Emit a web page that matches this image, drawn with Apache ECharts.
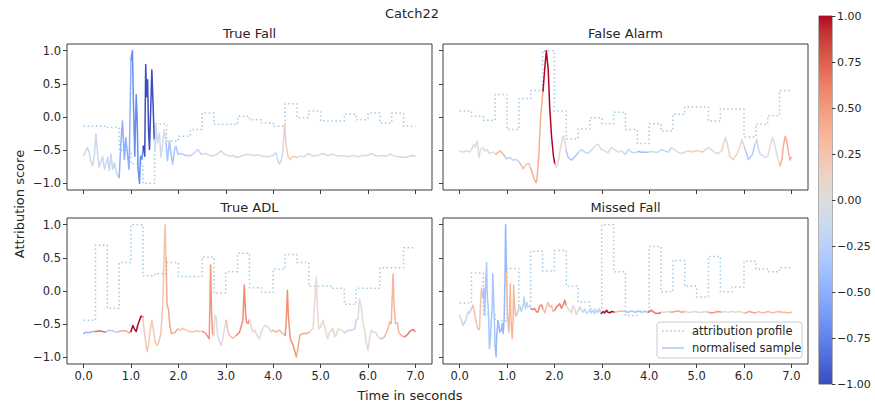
<!DOCTYPE html>
<html>
<head>
<meta charset="utf-8">
<script src="https://cdn.jsdelivr.net/npm/echarts@6/dist/echarts.min.js"></script>
<style>
  html, body { margin: 0; padding: 0; background: #fff; }
  #chart { width: 875px; height: 407px; }
</style>
</head>
<body>
<div id="chart"></div>
<script>
// Panel titles (row-major order)
const panelTitles = ['True Fall', 'False Alarm', 'True ADL', 'Missed Fall'];
const xTicks = [0, 1, 2, 3, 4, 5, 6, 7];
const yTicks = [-1, -0.5, 0, 0.5, 1];
const segmentSeconds = 0.25;

// Attribution profile: one score per 0.25 s window (28 windows over 7 s)
const fallProfile = [-0.14,-0.14,-0.16,-0.50,-0.70,-1.00,-0.10,-0.36,-0.29,-0.19,0.06,-0.11,-0.11,0.01,-0.04,-0.09,-0.14,0.20,-0.01,0.09,-0.06,-0.06,0.04,-0.04,0.06,-0.09,0.06,-0.14];
const falseProfile = [0.09,0.01,-0.05,0.34,-0.19,0.28,0.40,1.00,0.09,-0.33,-0.18,-0.01,-0.10,0.07,-0.19,-0.40,-0.10,-0.21,0.04,0.15,0.15,-0.06,0.12,0.12,-0.30,-0.11,0.02,0.40];
const adlProfile = [-0.44,0.69,-0.26,0.43,1.00,0.23,0.26,0.43,0.22,0.22,0.51,-0.03,0.29,0.57,0.05,-0.02,0.33,0.55,0.43,0.07,0.07,0.04,-0.20,0.04,0.04,0.35,0.35,0.65];
const missedProfile = [-0.18,0.27,-0.35,-0.45,0.34,-0.22,0.60,0.30,0.61,0.07,-0.17,-0.27,1.00,0.29,-0.37,-0.30,0.67,-0.01,0.46,0.07,-0.09,0.52,-0.01,0.06,0.45,0.33,0.29,0.35];

// Normalised samples: [time in s, value]
const fallSample = [[0.00,-0.58],[0.05,-0.51],[0.08,-0.46],[0.12,-0.54],[0.15,-0.66],[0.19,-0.74],[0.23,-0.56],[0.26,-0.26],[0.30,-0.59],[0.33,-0.76],[0.37,-0.66],[0.40,-0.59],[0.44,-0.79],[0.47,-0.71],[0.51,-0.61],[0.54,-0.81],[0.58,-0.56],[0.61,-0.79],[0.65,-0.69],[0.68,-0.81],[0.72,-0.89],[0.75,-0.91],[0.79,-0.36],[0.82,-0.06],[0.86,-0.64],[0.89,-0.31],[0.93,-0.59],[0.96,-0.79],[1.00,0.86],[1.03,1.00],[1.05,0.26],[1.08,-0.59],[1.11,0.34],[1.13,0.01],[1.15,-0.79],[1.18,-1.00],[1.20,-0.59],[1.23,-0.64],[1.26,-0.44],[1.29,-0.59],[1.31,0.79],[1.33,0.31],[1.35,0.56],[1.37,-0.19],[1.39,-0.49],[1.42,0.21],[1.44,0.71],[1.46,0.31],[1.49,-0.34],[1.51,-0.49],[1.53,-0.11],[1.56,-0.39],[1.60,-0.24],[1.63,-0.61],[1.67,-0.39],[1.70,-0.19],[1.74,-0.39],[1.77,-0.66],[1.81,-0.36],[1.85,-0.59],[1.88,-0.71],[1.92,-0.49],[1.95,-0.44],[1.99,-0.56],[2.06,-0.55],[2.16,-0.58],[2.27,-0.58],[2.34,-0.54],[2.41,-0.49],[2.48,-0.56],[2.58,-0.55],[2.69,-0.59],[2.80,-0.57],[2.90,-0.51],[2.97,-0.56],[3.08,-0.59],[3.15,-0.58],[3.25,-0.61],[3.36,-0.58],[3.46,-0.56],[3.57,-0.58],[3.68,-0.57],[3.78,-0.59],[3.89,-0.60],[3.99,-0.58],[4.06,-0.54],[4.10,-0.66],[4.13,-0.71],[4.17,-0.66],[4.20,-0.54],[4.24,-0.11],[4.27,-0.41],[4.31,-0.59],[4.36,-0.64],[4.42,-0.59],[4.49,-0.61],[4.56,-0.59],[4.66,-0.60],[4.73,-0.55],[4.84,-0.59],[4.94,-0.58],[5.05,-0.55],[5.15,-0.58],[5.26,-0.56],[5.37,-0.59],[5.47,-0.58],[5.58,-0.60],[5.68,-0.58],[5.79,-0.60],[5.89,-0.58],[6.00,-0.58],[6.07,-0.55],[6.18,-0.59],[6.28,-0.58],[6.39,-0.59],[6.46,-0.56],[6.56,-0.59],[6.67,-0.60],[6.77,-0.61],[6.88,-0.59],[6.94,-0.58],[6.99,-0.59]];

const falseSample = [[0.00,-0.51],[0.07,-0.53],[0.14,-0.51],[0.21,-0.53],[0.26,-0.48],[0.30,-0.41],[0.33,-0.46],[0.37,-0.36],[0.41,-0.61],[0.44,-0.49],[0.49,-0.46],[0.53,-0.51],[0.58,-0.49],[0.63,-0.55],[0.70,-0.53],[0.77,-0.56],[0.85,-0.51],[0.92,-0.56],[0.99,-0.63],[1.06,-0.61],[1.13,-0.65],[1.20,-0.64],[1.27,-0.69],[1.34,-0.78],[1.41,-0.71],[1.46,-0.70],[1.51,-0.79],[1.56,-0.91],[1.61,-0.99],[1.63,-0.96],[1.67,-0.59],[1.71,0.01],[1.76,0.39],[1.80,0.76],[1.83,1.00],[1.87,0.71],[1.90,0.16],[1.94,-0.29],[1.98,-0.59],[2.01,-0.71],[2.04,-0.76],[2.08,-0.69],[2.13,-0.46],[2.18,-0.29],[2.22,-0.34],[2.25,-0.51],[2.29,-0.61],[2.36,-0.65],[2.43,-0.60],[2.50,-0.54],[2.57,-0.49],[2.64,-0.53],[2.71,-0.55],[2.78,-0.50],[2.85,-0.44],[2.92,-0.41],[2.99,-0.49],[3.06,-0.51],[3.13,-0.54],[3.20,-0.46],[3.27,-0.49],[3.35,-0.53],[3.42,-0.51],[3.49,-0.56],[3.52,-0.54],[3.56,-0.49],[3.63,-0.53],[3.70,-0.54],[3.77,-0.52],[3.84,-0.53],[3.91,-0.53],[3.98,-0.53],[4.05,-0.52],[4.12,-0.53],[4.19,-0.53],[4.26,-0.49],[4.33,-0.51],[4.40,-0.53],[4.47,-0.46],[4.54,-0.50],[4.61,-0.53],[4.68,-0.55],[4.75,-0.53],[4.82,-0.51],[4.89,-0.53],[4.96,-0.51],[5.04,-0.51],[5.11,-0.53],[5.18,-0.50],[5.25,-0.46],[5.32,-0.50],[5.39,-0.54],[5.46,-0.55],[5.53,-0.51],[5.57,-0.39],[5.61,-0.31],[5.65,-0.41],[5.70,-0.59],[5.77,-0.64],[5.85,-0.56],[5.92,-0.44],[5.96,-0.34],[6.01,-0.46],[6.06,-0.56],[6.09,-0.64],[6.13,-0.61],[6.18,-0.56],[6.23,-0.41],[6.27,-0.34],[6.30,-0.46],[6.34,-0.56],[6.39,-0.58],[6.44,-0.61],[6.50,-0.59],[6.55,-0.44],[6.60,-0.31],[6.64,-0.39],[6.69,-0.56],[6.73,-0.66],[6.76,-0.73],[6.80,-0.64],[6.83,-0.44],[6.87,-0.29],[6.90,-0.36],[6.94,-0.54],[6.97,-0.65],[7.00,-0.61]];

const adlSample = [[0.00,-0.64],[0.05,-0.62],[0.12,-0.63],[0.19,-0.61],[0.26,-0.61],[0.33,-0.60],[0.40,-0.61],[0.47,-0.62],[0.54,-0.59],[0.61,-0.60],[0.68,-0.62],[0.75,-0.61],[0.82,-0.60],[0.89,-0.60],[0.96,-0.63],[1.00,-0.61],[1.04,-0.52],[1.07,-0.57],[1.11,-0.61],[1.14,-0.52],[1.18,-0.44],[1.21,-0.38],[1.25,-0.39],[1.28,-0.62],[1.32,-0.82],[1.34,-0.91],[1.37,-0.82],[1.40,-0.62],[1.44,-0.44],[1.47,-0.57],[1.51,-0.77],[1.55,-0.82],[1.58,-0.79],[1.63,-0.64],[1.67,-0.22],[1.70,0.59],[1.72,1.00],[1.74,0.49],[1.76,-0.22],[1.79,-0.27],[1.82,-0.52],[1.85,-0.64],[1.92,-0.63],[1.99,-0.57],[2.04,-0.59],[2.09,-0.56],[2.16,-0.59],[2.23,-0.61],[2.30,-0.62],[2.37,-0.60],[2.44,-0.61],[2.51,-0.61],[2.58,-0.64],[2.62,-0.69],[2.65,-0.72],[2.68,0.39],[2.70,-0.32],[2.72,-0.64],[2.75,-0.67],[2.77,-0.37],[2.80,-0.39],[2.82,-0.64],[2.87,-0.77],[2.90,-0.82],[2.94,-0.72],[2.97,-0.57],[3.01,-0.44],[3.04,-0.59],[3.08,-0.67],[3.15,-0.71],[3.22,-0.67],[3.29,-0.62],[3.36,-0.44],[3.39,0.09],[3.42,-0.37],[3.44,-0.47],[3.47,-0.49],[3.50,-0.43],[3.54,-0.54],[3.57,-0.62],[3.61,-0.59],[3.64,-0.64],[3.68,-0.69],[3.71,-0.72],[3.75,-0.62],[3.80,-0.54],[3.85,-0.52],[3.92,-0.57],[3.96,-0.62],[3.99,-0.59],[4.06,-0.62],[4.10,-0.60],[4.13,-0.59],[4.20,-0.64],[4.25,-0.67],[4.27,-0.52],[4.30,0.01],[4.32,-0.37],[4.36,-0.72],[4.42,-0.82],[4.46,-0.92],[4.49,-0.99],[4.51,-0.92],[4.56,-0.67],[4.63,-0.64],[4.70,-0.64],[4.77,-0.62],[4.80,-0.59],[4.84,-0.57],[4.87,-0.22],[4.91,0.21],[4.93,-0.22],[4.96,-0.57],[5.00,-0.54],[5.05,-0.44],[5.08,-0.52],[5.12,-0.64],[5.15,-0.72],[5.19,-0.62],[5.23,-0.59],[5.26,-0.57],[5.30,-0.69],[5.33,-0.66],[5.37,-0.57],[5.44,-0.59],[5.51,-0.63],[5.58,-0.59],[5.65,-0.59],[5.72,-0.57],[5.75,-0.44],[5.79,-0.42],[5.82,-0.12],[5.86,-0.24],[5.89,-0.47],[5.93,-0.59],[5.96,-0.77],[6.00,-0.89],[6.04,-0.69],[6.07,-0.59],[6.11,-0.62],[6.16,-0.62],[6.21,-0.69],[6.28,-0.72],[6.35,-0.69],[6.42,-0.57],[6.46,-0.46],[6.49,-0.49],[6.53,0.26],[6.55,-0.22],[6.58,-0.49],[6.62,-0.48],[6.65,-0.62],[6.70,-0.67],[6.77,-0.69],[6.81,-0.67],[6.85,-0.64],[6.88,-0.61],[6.92,-0.59],[6.95,-0.58],[6.99,-0.61]];

const missedSample = [[0.00,-0.37],[0.04,-0.44],[0.07,-0.52],[0.11,-0.47],[0.14,-0.42],[0.18,-0.31],[0.21,-0.33],[0.25,-0.27],[0.28,-0.21],[0.32,-0.34],[0.35,-0.47],[0.39,-0.58],[0.42,-0.58],[0.44,-0.22],[0.46,0.04],[0.49,-0.09],[0.51,0.04],[0.53,-0.37],[0.55,0.11],[0.57,0.43],[0.58,-0.02],[0.61,-0.32],[0.63,-0.87],[0.65,-0.72],[0.67,-0.42],[0.69,-0.22],[0.70,0.26],[0.73,-0.37],[0.75,-0.82],[0.77,-0.99],[0.78,-0.72],[0.81,-0.44],[0.83,-0.52],[0.85,-0.62],[0.88,-0.59],[0.90,-0.49],[0.92,-0.64],[0.94,-0.42],[0.96,0.29],[0.97,1.00],[0.99,0.29],[1.01,-0.37],[1.04,-0.62],[1.06,-0.17],[1.07,0.11],[1.08,-0.37],[1.11,-0.72],[1.13,-0.42],[1.14,0.09],[1.16,-0.22],[1.18,-0.37],[1.20,-0.37],[1.23,-0.31],[1.27,-0.22],[1.30,-0.31],[1.34,-0.22],[1.36,-0.09],[1.39,-0.27],[1.42,-0.17],[1.44,-0.24],[1.48,-0.22],[1.51,-0.27],[1.55,-0.28],[1.58,-0.26],[1.62,-0.31],[1.65,-0.32],[1.69,-0.22],[1.73,-0.21],[1.76,-0.27],[1.80,-0.33],[1.83,-0.24],[1.87,-0.17],[1.90,-0.24],[1.94,-0.22],[1.97,-0.31],[2.01,-0.29],[2.04,-0.24],[2.08,-0.22],[2.11,-0.19],[2.15,-0.26],[2.18,-0.22],[2.22,-0.14],[2.25,-0.22],[2.29,-0.27],[2.32,-0.29],[2.36,-0.33],[2.39,-0.22],[2.43,-0.27],[2.46,-0.36],[2.50,-0.29],[2.54,-0.24],[2.57,-0.29],[2.61,-0.32],[2.64,-0.27],[2.68,-0.34],[2.71,-0.32],[2.75,-0.28],[2.78,-0.33],[2.82,-0.29],[2.85,-0.34],[2.89,-0.29],[2.92,-0.32],[2.96,-0.28],[2.99,-0.34],[3.03,-0.31],[3.06,-0.33],[3.10,-0.29],[3.13,-0.32],[3.17,-0.33],[3.20,-0.31],[3.27,-0.32],[3.35,-0.31],[3.42,-0.30],[3.49,-0.31],[3.56,-0.32],[3.63,-0.30],[3.70,-0.32],[3.77,-0.30],[3.84,-0.32],[3.91,-0.31],[3.98,-0.32],[4.05,-0.29],[4.12,-0.33],[4.19,-0.34],[4.26,-0.32],[4.33,-0.32],[4.40,-0.31],[4.47,-0.32],[4.54,-0.31],[4.61,-0.30],[4.68,-0.32],[4.75,-0.31],[4.82,-0.32],[4.89,-0.32],[4.96,-0.31],[5.04,-0.32],[5.11,-0.32],[5.18,-0.31],[5.25,-0.32],[5.32,-0.33],[5.39,-0.32],[5.46,-0.31],[5.53,-0.32],[5.60,-0.31],[5.67,-0.32],[5.74,-0.31],[5.82,-0.32],[5.89,-0.31],[5.96,-0.32],[6.03,-0.33],[6.10,-0.31],[6.17,-0.32],[6.24,-0.33],[6.31,-0.31],[6.38,-0.33],[6.45,-0.32],[6.52,-0.31],[6.59,-0.33],[6.66,-0.32],[6.73,-0.31],[6.80,-0.32],[6.87,-0.32],[6.94,-0.33],[7.00,-0.32]];

const panels = [
  { profile: fallProfile, sample: fallSample },
  { profile: falseProfile, sample: falseSample },
  { profile: adlProfile, sample: adlSample },
  { profile: missedProfile, sample: missedSample }
];

// Diverging blue-white-red colour scale (coolwarm), 33 evenly spaced stops
const coolwarmStops = [[59,76,192],[68,90,204],[77,104,215],[87,117,225],[98,130,234],[108,142,241],[119,154,247],[130,165,251],[141,176,254],[152,185,255],[163,194,255],[174,201,253],[184,208,249],[194,213,244],[204,217,238],[213,219,230],[221,221,221],[229,216,209],[236,211,197],[241,204,185],[245,196,173],[247,187,160],[247,177,148],[247,166,135],[244,154,123],[241,141,111],[236,127,99],[229,112,88],[222,96,77],[213,80,66],[203,62,56],[192,40,47],[180,4,38]];

function coolwarm(v) {
  const p = Math.max(0, Math.min(1, (v + 1) / 2)) * (coolwarmStops.length - 1);
  const i = Math.min(coolwarmStops.length - 2, Math.floor(p));
  const f = p - i;
  const a = coolwarmStops[i], b = coolwarmStops[i + 1];
  const c = a.map((x, k) => Math.round(x + (b[k] - x) * f));
  return 'rgb(' + c.join(',') + ')';
}

const minus = s => s.replace('-', '\u2212');
const fmt1 = v => minus(v.toFixed(1));
const fmt2 = v => minus(v.toFixed(2));

const FONT = 'DejaVu Sans';
const TXT = '#262626';

const gridBoxes = [
  { left: 67, top: 44, width: 365, height: 146 },
  { left: 443, top: 44, width: 365, height: 146 },
  { left: 67, top: 218, width: 365, height: 146 },
  { left: 443, top: 218, width: 365, height: 146 }
];

const grids = gridBoxes.map(g => Object.assign({ show: true, borderColor: '#3d3d3d', borderWidth: 1, backgroundColor: '#fff' }, g));
grids.push({ left: 819, top: 16, width: 13, height: 368, show: true, borderColor: '#3d3d3d', borderWidth: 0.8 });

const xAxes = [], yAxes = [], series = [];

panels.forEach((p, k) => {
  const bottomRow = k >= 2, leftCol = k % 2 === 0;
  xAxes.push({
    type: 'value', gridIndex: k, min: -0.35, max: 7.35, position: 'bottom',
    axisLine: { show: false, onZero: false }, splitLine: { show: false },
    axisTick: { show: true, length: 4, customValues: xTicks, lineStyle: { color: '#3d3d3d', width: 1 } },
    axisLabel: { show: bottomRow, customValues: xTicks, formatter: fmt1, color: TXT, fontFamily: FONT, fontSize: 11.5, margin: 6 }
  });
  yAxes.push({
    type: 'value', gridIndex: k, min: -1.1, max: 1.1, position: 'left',
    axisLine: { show: false, onZero: false }, splitLine: { show: false },
    axisTick: { show: true, length: 4, customValues: yTicks, lineStyle: { color: '#3d3d3d', width: 1 } },
    axisLabel: { show: leftCol, customValues: yTicks, formatter: fmt1, color: TXT, fontFamily: FONT, fontSize: 11.5, margin: 6 }
  });

  // attribution profile as a step line (value holds across each window)
  const stepData = p.profile.map((v, i) => [i * segmentSeconds, v]);
  stepData.push([p.profile.length * segmentSeconds, p.profile[p.profile.length - 1]]);
  series.push({
    type: 'line', name: 'attribution profile', xAxisIndex: k, yAxisIndex: k,
    data: stepData, step: 'end', symbol: 'none', silent: true, z: 2,
    lineStyle: { color: '#a5c9e1', width: 1.5, type: [1.5, 2.6] }
  });

  // normalised sample, coloured window by window with the attribution score
  let run = null;
  const runs = [];
  for (let i = 0; i < p.sample.length - 1; i++) {
    const mid = (p.sample[i][0] + p.sample[i + 1][0]) / 2;
    const seg = Math.min(p.profile.length - 1, Math.floor(mid / segmentSeconds));
    if (!run || run.seg !== seg) { run = { seg, pts: [p.sample[i]] }; runs.push(run); }
    run.pts.push(p.sample[i + 1]);
  }
  runs.forEach(r => {
    series.push({
      type: 'line', name: 'normalised sample', xAxisIndex: k, yAxisIndex: k,
      data: r.pts, symbol: 'none', silent: true, z: 3,
      lineStyle: { color: coolwarm(p.profile[r.seg]), width: 1.5, join: 'round', cap: 'round' }
    });
  });
});

// colour bar
xAxes.push({ type: 'value', gridIndex: 4, min: 0, max: 1, show: false });
yAxes.push({
  type: 'value', gridIndex: 4, min: -1, max: 1, interval: 0.25, position: 'right',
  axisLine: { show: false, onZero: false }, splitLine: { show: false },
  axisTick: { show: true, length: 3.5, lineStyle: { color: '#3d3d3d' } },
  axisLabel: { formatter: fmt2, color: TXT, fontFamily: FONT, fontSize: 11, margin: 5 }
});
const barStops = coolwarmStops.map((c, i) => ({ offset: 1 - i / (coolwarmStops.length - 1), color: 'rgb(' + c.join(',') + ')' }))
  .sort((a, b) => a.offset - b.offset);
series.push({
  type: 'custom', xAxisIndex: 4, yAxisIndex: 4, data: [[0, 0]], silent: true,
  renderItem: (params, api) => {
    const tl = api.coord([0, 1]), br = api.coord([1, -1]);
    return {
      type: 'rect',
      shape: { x: tl[0], y: tl[1], width: br[0] - tl[0], height: br[1] - tl[1] },
      style: { fill: new echarts.graphic.LinearGradient(0, 0, 0, 1, barStops) }
    };
  }
});

const graphics = [
  { type: 'text', x: 412, y: 13, style: { text: 'Catch22', font: '13px "DejaVu Sans"', fill: TXT, align: 'center', verticalAlign: 'middle' } },
  { type: 'text', x: 410, y: 395, style: { text: 'Time in seconds', font: '13px "DejaVu Sans"', fill: TXT, align: 'center', verticalAlign: 'middle' } },
  { type: 'text', x: 19, y: 204, rotation: Math.PI / 2, style: { text: 'Attribution score', font: '13px "DejaVu Sans"', fill: TXT, align: 'center', verticalAlign: 'middle' } }
];
gridBoxes.forEach((g, k) => {
  graphics.push({ type: 'text', x: g.left + g.width / 2, y: g.top - 11, style: { text: panelTitles[k], font: '13px "DejaVu Sans"', fill: TXT, align: 'center', verticalAlign: 'middle' } });
});
// legend box in the last panel
graphics.push(
  { type: 'rect', z: 100, shape: { x: 657, y: 322, width: 145, height: 36, r: 3 }, style: { fill: 'rgba(255,255,255,0.85)', stroke: '#cccccc', lineWidth: 1 } },
  { type: 'line', z: 101, shape: { x1: 662, y1: 331, x2: 684, y2: 331 }, style: { stroke: '#a5c9e1', lineWidth: 1.5, lineDash: [1.5, 2.6] } },
  { type: 'line', z: 101, shape: { x1: 662, y1: 348, x2: 684, y2: 348 }, style: { stroke: '#aec7f5', lineWidth: 1.5 } },
  { type: 'text', z: 101, x: 692, y: 331, style: { text: 'attribution profile', font: '11.5px "DejaVu Sans"', fill: TXT, verticalAlign: 'middle' } },
  { type: 'text', z: 101, x: 692, y: 348, style: { text: 'normalised sample', font: '11.5px "DejaVu Sans"', fill: TXT, verticalAlign: 'middle' } }
);

const chart = echarts.init(document.getElementById('chart'), null, { renderer: 'svg' });
chart.setOption({
  animation: false,
  backgroundColor: '#fff',
  textStyle: { fontFamily: FONT },
  grid: grids,
  xAxis: xAxes,
  yAxis: yAxes,
  series: series,
  graphic: graphics
});
</script>
</body>
</html>
